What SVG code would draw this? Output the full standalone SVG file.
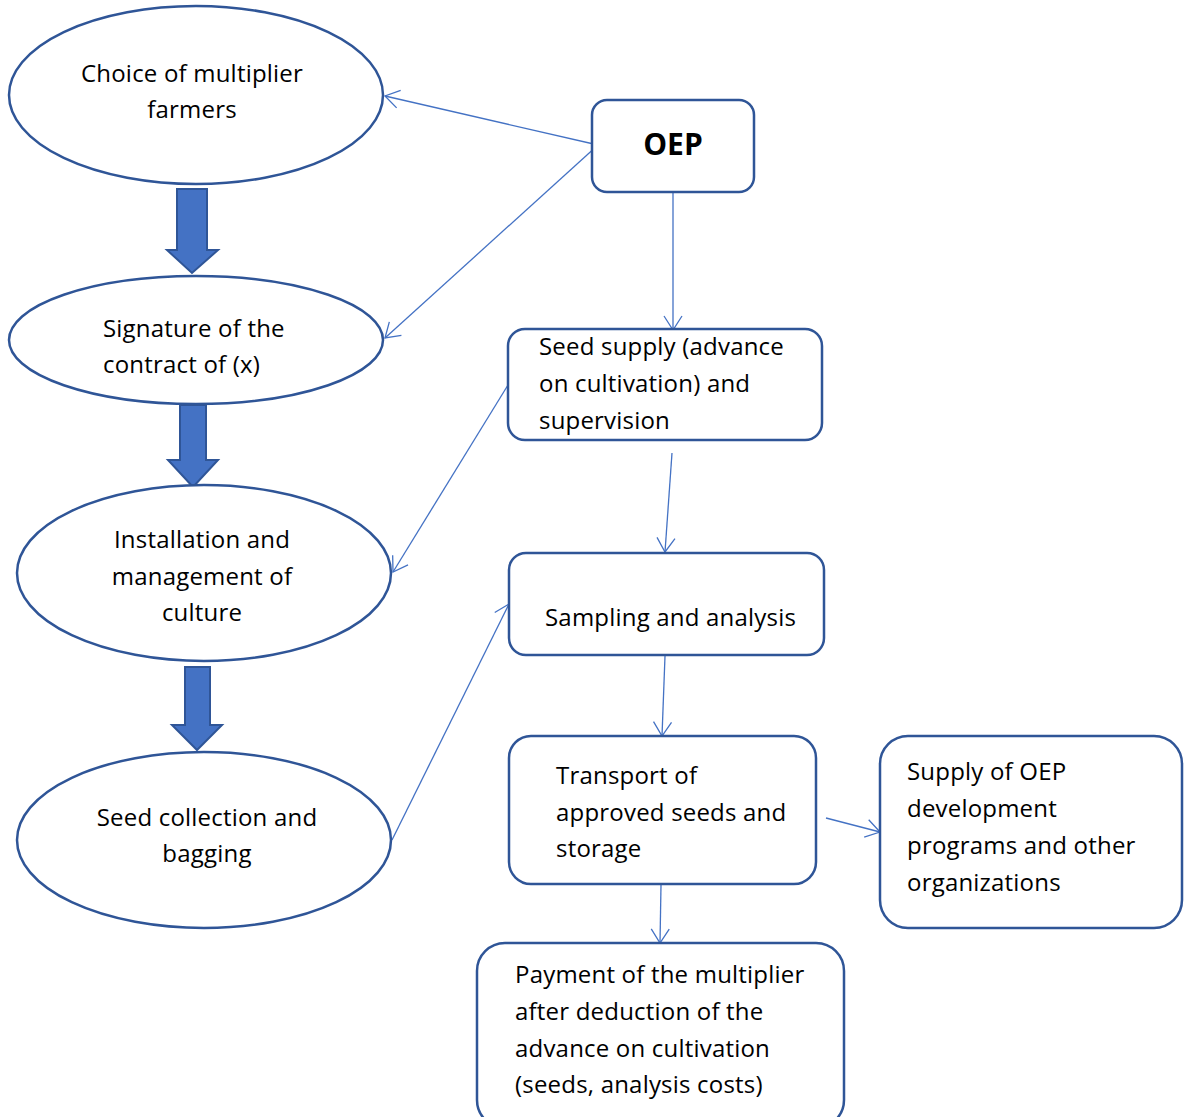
<svg xmlns="http://www.w3.org/2000/svg" width="1184" height="1117" viewBox="0 0 1184 1117">
<defs>
<style>
.sh{fill:#fff;stroke:#2F5597;stroke-width:2.5}
.ba{fill:#4472C4;stroke:#2F5597;stroke-width:2}
.cn{stroke:#4472C4;stroke-width:1.3;fill:none;marker-end:url(#oa)}
text{font-family:"Open Sans","Liberation Sans",Arial,sans-serif;font-size:24px;letter-spacing:0.2px;fill:#000}
.c{text-anchor:middle}
</style>
<marker id="oa" markerUnits="userSpaceOnUse" markerWidth="30" markerHeight="30" refX="20" refY="10" viewBox="0 0 30 20" orient="auto" overflow="visible">
<path d="M6,1 L20,10 L6,19" fill="none" stroke="#4472C4" stroke-width="1.3"/>
</marker>
</defs>
<rect width="1184" height="1117" fill="#fff"/>
<g id="connectors">
<line class="cn" x1="598" y1="145" x2="385" y2="96"/>
<line class="cn" x1="598" y1="145" x2="385" y2="338"/>
<line class="cn" x1="673" y1="193" x2="673" y2="330"/>
<line class="cn" x1="508" y1="385" x2="393" y2="572"/>
<line class="cn" x1="672" y1="453" x2="665" y2="552"/>
<line class="cn" x1="392" y1="840" x2="509" y2="604"/>
<line class="cn" x1="665" y1="656" x2="662" y2="736"/>
<line class="cn" x1="826" y1="818" x2="880" y2="832"/>
<line class="cn" x1="661" y1="885" x2="660" y2="943"/>
</g>
<g id="blockarrows">
<path class="ba" d="M177,189 H207 V250 H218 L192,273 L167,250 H177 Z"/>
<path class="ba" d="M180,405 H206 V460 H218 L193,487 L168,460 H180 Z"/>
<path class="ba" d="M185,667 H210 V725 H222 L197,750 L172,725 H185 Z"/>
</g>
<g id="n1">
<ellipse class="sh" cx="196" cy="95" rx="187" ry="89"/>
<text class="c" x="192" y="82">Choice of multiplier</text>
<text class="c" x="192" y="118">farmers</text>
</g>
<g id="n2">
<ellipse class="sh" cx="196" cy="340" rx="187" ry="64"/>
<text x="103" y="337">Signature of the</text>
<text x="103" y="373">contract of (x)</text>
</g>
<g id="n3">
<ellipse class="sh" cx="204" cy="573" rx="187" ry="88"/>
<text class="c" x="202" y="548">Installation and</text>
<text class="c" x="202" y="585">management of</text>
<text class="c" x="202" y="621">culture</text>
</g>
<g id="n4">
<ellipse class="sh" cx="204" cy="840" rx="187" ry="88"/>
<text class="c" x="207" y="826">Seed collection and</text>
<text class="c" x="207" y="862">bagging</text>
</g>
<g id="oep">
<rect class="sh" x="592" y="100" width="162" height="92" rx="15"/>
<text class="c" x="673" y="155" style="font-size:30px;font-weight:bold;letter-spacing:0">OEP</text>
</g>
<g id="supply">
<rect class="sh" x="508" y="329" width="314" height="111" rx="17"/>
<text x="539" y="355">Seed supply (advance</text>
<text x="539" y="392">on cultivation) and</text>
<text x="539" y="429">supervision</text>
</g>
<g id="sampling">
<rect class="sh" x="509" y="553" width="315" height="102" rx="17"/>
<text x="545" y="626">Sampling and analysis</text>
</g>
<g id="transport">
<rect class="sh" x="509" y="736" width="307" height="148" rx="22"/>
<text x="556" y="784">Transport of</text>
<text x="556" y="821">approved seeds and</text>
<text x="556" y="857">storage</text>
</g>
<g id="oepsupply">
<rect class="sh" x="880" y="736" width="302" height="192" rx="28"/>
<text x="907" y="780">Supply of OEP</text>
<text x="907" y="817">development</text>
<text x="907" y="854">programs and other</text>
<text x="907" y="891">organizations</text>
</g>
<g id="payment">
<rect class="sh" x="477" y="943" width="367" height="185" rx="28"/>
<text x="515" y="983">Payment of the multiplier</text>
<text x="515" y="1020">after deduction of the</text>
<text x="515" y="1057">advance on cultivation</text>
<text x="515" y="1093">(seeds, analysis costs)</text>
</g>
</svg>
